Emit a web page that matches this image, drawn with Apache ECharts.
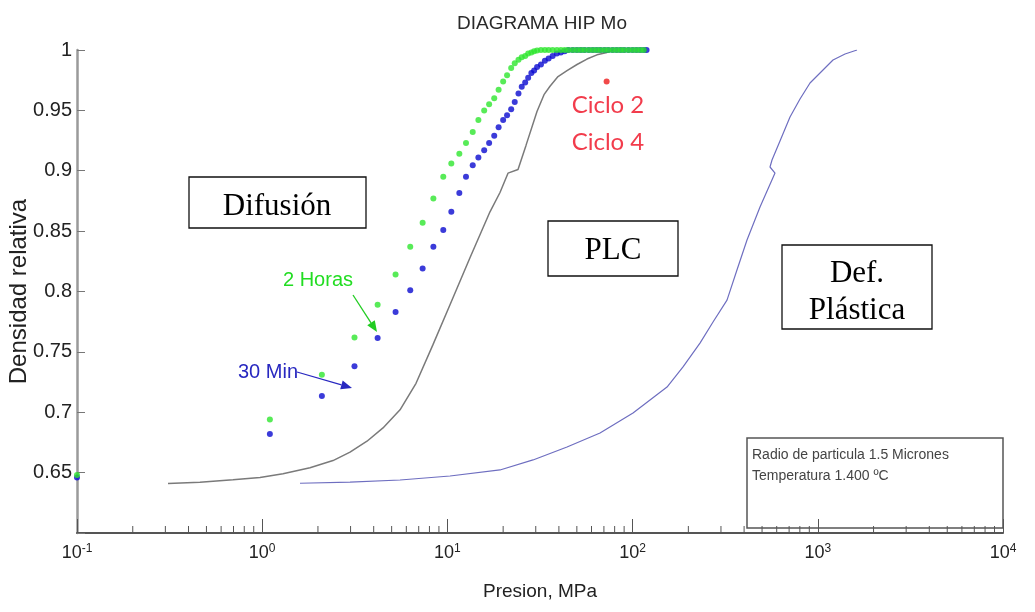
<!DOCTYPE html>
<html>
<head>
<meta charset="utf-8">
<script src="https://cdn.jsdelivr.net/npm/echarts@6.0.0/dist/echarts.min.js"></script>
<style>
  html, body { margin: 0; padding: 0; background: #fff; }
  #main { width: 1035px; height: 612px; }
</style>
</head>
<body>
<div id="main"></div>
<script>
    // presion (MPa) de los puntos medidos, comun a las dos series
    var pressure = [0.1, 1.1, 2.1, 3.15, 4.2, 5.25, 6.3, 7.35, 8.4, 9.5, 10.5, 11.6, 12.6, 13.7, 14.7,
        15.8, 16.8, 17.9, 18.9, 20, 21, 22.1, 23.1, 24.2, 25.2, 26.3, 27.3, 28.4, 29.4, 30.5,
        32, 33.6, 35.2, 37, 39, 41, 43, 45, 47.5, 50, 52.5, 55, 58, 61, 64, 67, 70.5, 74,
        78, 82, 86, 90, 95, 100, 105, 110, 115, 119];
    // 2 Horas (verde)
    var densHoras = [0.648, 0.694, 0.731, 0.762, 0.789, 0.814, 0.837, 0.857, 0.877, 0.895, 0.906, 0.914, 0.923, 0.932, 0.942,
        0.950, 0.955, 0.960, 0.967, 0.974, 0.979, 0.985, 0.989, 0.992, 0.994, 0.995, 0.997, 0.998, 0.999, 0.9995,
        1, 1, 1, 1, 1, 1, 1, 1, 1, 1, 1, 1, 1, 1, 1, 1, 1, 1,
        1, 1, 1, 1, 1, 1, 1, 1, 1];
    // 30 Min (azul)
    var densMin = [0.646, 0.682, 0.7135, 0.738, 0.7614, 0.783, 0.801, 0.819, 0.837, 0.851, 0.866, 0.8815, 0.895, 0.9045, 0.911,
        0.917, 0.923, 0.929, 0.936, 0.942, 0.946, 0.951, 0.957, 0.964, 0.9695, 0.973, 0.977, 0.981, 0.983, 0.986,
        0.988, 0.991, 0.993, 0.995, 0.997, 0.998, 0.999, 1, 1, 1, 1, 1, 1, 1, 1, 1, 1, 1,
        1, 1, 1, 1, 1, 1, 1, 1, 1, 1];
    var ciclo = [[72.4, 0.974]];

    // limite difusion / PLC
    var plcP = [0.31, 0.461, 0.695, 0.973, 1.295, 1.812, 2.412, 2.98, 3.68, 4.49, 5.55, 6.77, 8.36, 10.33, 13.24,
        16.98, 19.23, 21.24, 24.06, 26.57, 30.46, 33.24, 35.81, 39.56, 44.25, 50.1, 56.7, 64.2, 72.7, 78.4];
    var plcD = [0.641, 0.642, 0.644, 0.646, 0.649, 0.654, 0.660, 0.667, 0.676, 0.687, 0.702, 0.724, 0.756, 0.789, 0.828,
        0.866, 0.882, 0.898, 0.901, 0.921, 0.949, 0.963, 0.970, 0.978, 0.983, 0.988, 0.9925, 0.996, 0.998, 1.0];
    // limite PLC / deformacion plastica
    var defP = [1.6, 2.98, 5.55, 10.33, 19.23, 29.0, 44.25, 66.7, 100.5, 153.4, 187.2, 231.1, 271.8, 323.4, 366, 414.7,
        487.5, 587.4, 552.0, 565.9, 625, 707.8, 801.5, 907.7, 1208, 1403, 1628];
    var defD = [0.6412, 0.6422, 0.6439, 0.6472, 0.6522, 0.6605, 0.6712, 0.6828, 0.6994, 0.7209, 0.7375, 0.7573, 0.7747, 0.7929, 0.8178, 0.8427,
        0.8700, 0.8981, 0.9031, 0.9089, 0.9246, 0.9445, 0.9594, 0.9727, 0.9917, 0.9967, 1.0];

    var minorTicks = [0.2, 0.3, 0.4, 0.5, 0.6, 0.7, 0.8, 0.9, 2, 3, 4, 5, 6, 7, 8, 9,
        20, 30, 40, 50, 60, 70, 80, 90, 200, 300, 400, 500, 600, 700, 800, 900,
        2000, 3000, 4000, 5000, 6000, 7000, 8000, 9000];

    var sans = "'Liberation Sans', Arial, sans-serif";
    var serif = "'Liberation Serif', 'Times New Roman', serif";

    function pairs(xs, ys) {
        var out = [];
        for (var i = 0; i < xs.length && i < ys.length; i++) out.push([xs[i], ys[i]]);
        return out;
    }

    function arrow(x1, y1, x2, y2, color) {
        var dx = x2 - x1, dy = y2 - y1, len = Math.sqrt(dx * dx + dy * dy);
        var ux = dx / len, uy = dy / len, bx = x2 - ux * 11, by = y2 - uy * 11;
        return [
            { type: 'line', z: 100, shape: { x1: x1, y1: y1, x2: bx, y2: by }, style: { stroke: color, lineWidth: 1.3 } },
            { type: 'polygon', z: 100, shape: { points: [[x2, y2], [bx - uy * 4.5, by + ux * 4.5], [bx + uy * 4.5, by - ux * 4.5]] }, style: { fill: color } }
        ];
    }

    function box(x, y, w, h) {
        return { type: 'rect', z: 110, shape: { x: x, y: y, width: w, height: h }, style: { fill: 'none', stroke: '#111', lineWidth: 1.3 } };
    }

    function label(text, x, y, size, family, color, align) {
        return { type: 'text', z: 105, x: x, y: y, style: { text: text, fontSize: size, fontFamily: family, fill: color, align: align || 'center', verticalAlign: 'middle' } };
    }

    var graphics = [
        { type: 'rect', z: 101, shape: { x: 189, y: 177, width: 177, height: 51 }, style: { fill: '#fff' } },
        { type: 'rect', z: 101, shape: { x: 548, y: 221, width: 130, height: 55 }, style: { fill: '#fff' } },
        { type: 'rect', z: 101, shape: { x: 782, y: 245, width: 150, height: 84 }, style: { fill: '#fff' } },
        label('Difusión', 277, 207, 31, serif, '#000'),
        label('PLC', 613, 251, 31, serif, '#000'),
        label('Def.', 857, 274, 31, serif, '#000'),
        label('Plástica', 857, 311, 31, serif, '#000'),
        { type: 'rect', z: 108, shape: { x: 783, y: 320, width: 148, height: 8 }, style: { fill: '#fff' } },
        box(189, 177, 177, 51),
        box(548, 221, 130, 55),
        box(782, 245, 150, 84),
        label('Ciclo 2', 608, 105, 24, "Lato, 'Open Sans', sans-serif", '#f23c4c'),
        label('Ciclo 4', 608, 142, 24, "Lato, 'Open Sans', sans-serif", '#f23c4c'),
        label('2 Horas', 318, 280, 20, sans, '#22dd22'),
        label('30 Min', 268, 372, 20, sans, '#2828c0'),
        { type: 'rect', z: 110, shape: { x: 747, y: 438, width: 256, height: 90 }, style: { fill: 'none', stroke: '#555', lineWidth: 1.5 } },
        label('Radio de particula 1.5 Micrones', 752, 455, 14, sans, '#444', 'left'),
        label('Temperatura 1.400 ºC', 752, 476, 14, sans, '#444', 'left')
    ].concat(arrow(353, 295, 377, 332, '#22cc22'), arrow(297, 372, 352, 388, '#2828c0'));

    var myChart = echarts.init(document.getElementById('main'));
    var option = {
        animation: false,
        backgroundColor: '#fff',
        title: {
            text: 'DIAGRAMA HIP Mo',
            left: 537,
            textAlign: 'center',
            top: 9,
            textStyle: { fontFamily: sans, fontSize: 19, fontWeight: 'normal', color: '#2a2a2a' }
        },
        grid: { left: 77, right: 32, top: 50, bottom: 79, outerBoundsMode: 'none' },
        xAxis: {
            type: 'log',
            logBase: 10,
            min: 0.1,
            max: 10000,
            name: 'Presion, MPa',
            nameLocation: 'middle',
            nameGap: 49,
            nameMoveOverlap: false,
            nameTextStyle: { fontFamily: sans, fontSize: 19, color: '#222' },
            axisLine: { lineStyle: { color: '#555', width: 2 } },
            axisTick: { inside: true, length: 14, lineStyle: { color: '#555', width: 1 } },
            splitLine: { show: false },
            axisLabel: {
                margin: 10,
                formatter: function (v) {
                    return '{b|10}{s|' + Math.round(Math.log(v) / Math.LN10) + '}';
                },
                rich: {
                    b: { fontFamily: sans, fontSize: 18, color: '#222', verticalAlign: 'bottom', lineHeight: 19 },
                    s: { fontFamily: sans, fontSize: 12, color: '#222', verticalAlign: 'top', lineHeight: 12, padding: [0, 0, 15, 0] }
                }
            }
        },
        yAxis: {
            type: 'value',
            min: 0.6,
            max: 1,
            interval: 0.05,
            name: 'Densidad relativa',
            nameLocation: 'middle',
            nameGap: 46,
            nameMoveOverlap: false,
            nameTextStyle: { fontFamily: sans, fontSize: 24, color: '#222' },
            axisLine: { show: true, lineStyle: { color: '#9a9a9a', width: 2.5 } },
            axisTick: { show: true, inside: true, length: 8, lineStyle: { color: '#777', width: 1 } },
            splitLine: { show: false },
            axisLabel: {
                margin: 5,
                fontFamily: sans,
                fontSize: 20,
                color: '#222',
                formatter: function (v) {
                    return Math.abs(v - 0.6) < 1e-6 ? '' : String(+v.toFixed(2));
                }
            }
        },
        graphic: graphics,
        series: [
            {
                name: 'PLC',
                type: 'line',
                data: pairs(plcP, plcD),
                showSymbol: false,
                lineStyle: { color: '#7a7a7a', width: 1.5 },
                z: 2
            },
            {
                name: 'Def. Plastica',
                type: 'line',
                data: pairs(defP, defD),
                showSymbol: false,
                lineStyle: { color: '#6e6ec0', width: 1.2 },
                z: 2
            },
            {
                name: '30 Min',
                type: 'scatter',
                data: pairs(pressure, densMin),
                symbolSize: 6,
                itemStyle: { color: '#0a0ad0' },
                clip: false,
                z: 3
            },
            {
                name: '2 Horas',
                type: 'scatter',
                data: pairs(pressure, densHoras),
                symbolSize: 6,
                itemStyle: { color: '#2ee62e' },
                clip: false,
                z: 4
            },
            {
                name: 'Ciclo',
                type: 'scatter',
                data: ciclo,
                symbolSize: 6,
                itemStyle: { color: '#ee1c1c' },
                z: 5
            },
            {
                name: 'minor',
                type: 'custom',
                silent: true,
                clip: false,
                data: minorTicks.map(function (v) { return [v, 0.6]; }),
                renderItem: function (params, api) {
                    var p = api.coord([api.value(0), api.value(1)]);
                    return {
                        type: 'line',
                        shape: { x1: p[0], y1: p[1], x2: p[0], y2: p[1] - 7 },
                        style: { stroke: '#555', lineWidth: 1 }
                    };
                },
                z: 6
            }
        ]
    };
    myChart.setOption(option);
</script>
</body>
</html>
